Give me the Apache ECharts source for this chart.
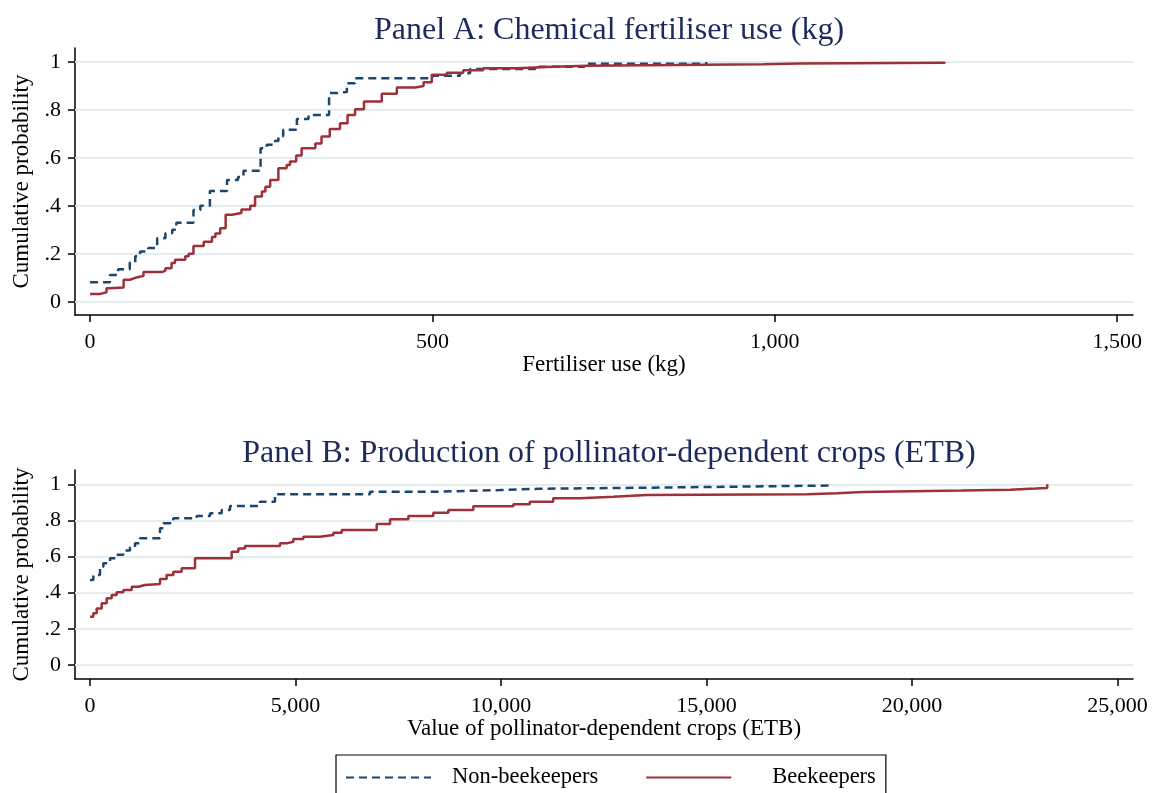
<!DOCTYPE html>
<html><head><meta charset="utf-8">
<script src="https://cdn.jsdelivr.net/npm/echarts@6/dist/echarts.min.js"></script>
<style>html,body{margin:0;padding:0;background:#fff}#c{width:1153px;height:793px}</style>
</head><body><div id="c"></div>
<script>
const seriesNames = ['Non-beekeepers', 'Beekeepers'];
const panelTitles = ['Panel A: Chemical fertiliser use (kg)', 'Panel B: Production of pollinator-dependent crops (ETB)'];
const xTitles = ['Fertiliser use (kg)', 'Value of pollinator-dependent crops (ETB)'];
const yTitle = 'Cumulative probability';
const fertTicks = [0, 500, 1000, 1500];
const prodTicks = [0, 5000, 10000, 15000, 20000, 25000];
const probTicks = [0, 0.2, 0.4, 0.6, 0.8, 1];

// Panel A: [kg, cumulative probability]
const fertNon = [[0,.082],[29,.112],[41,.136],[58,.164],[66,.19],[73,.21],[85,.224],[98,.265],[110,.286],[120,.30],[126,.33],[151,.383],[161,.40],[175,.462],[200,.508],[216,.52],[224,.546],[249,.64],[258,.655],[268,.67],[275,.69],[282,.717],[302,.762],[319,.779],[349,.87],[360,.875],[375,.911],[387,.932],[500,.942],[540,.953],[555,.97],[650,.98],[722,.992],[900,1]];
const fertBee = [[0,.033],[15,.04],[24,.057],[29,.06],[49,.092],[58,.10],[66,.108],[78,.124],[105,.13],[110,.14],[119,.162],[124,.175],[139,.19],[144,.2],[151,.233],[166,.25],[178,.27],[183,.285],[190,.307],[198,.3625],[207,.37],[221,.385],[234,.40],[241,.439],[251,.46],[256,.48],[263,.508],[275,.557],[287,.57],[292,.585],[301,.61],[309,.64],[329,.66],[338,.689],[350,.72],[365,.744],[376,.779],[387,.803],[400,.835],[426,.867],[448,.893],[475,.90],[487,.915],[499,.946],[521,.955],[545,.965],[574,.974],[623,.98],[677,.984],[725,.99],[983,.993],[1036,.996],[1248,1]];

// Panel B: [ETB, cumulative probability]
const prodNon = [[0,.47],[81,.498],[243,.544],[324,.563],[487,.59],[649,.61],[811,.633],[973,.65],[1095,.673],[1216,.701],[1703,.756],[1784,.784],[2027,.812],[2595,.825],[2920,.839],[3203,.858],[3406,.88],[4136,.904],[4501,.945],[6813,.959],[8435,.968],[9976,.975],[10900,.983],[14355,.993],[18000,1]];
const prodBee = [[0,.267],[81,.286],[162,.313],[284,.341],[406,.369],[527,.387],[649,.402],[811,.415],[1014,.433],[1176,.443],[1338,.448],[1703,.476],[1865,.498],[2027,.516],[2230,.535],[2555,.59],[3447,.627],[3609,.645],[3771,.658],[4623,.673],[4785,.682],[4947,.697],[5191,.71],[5596,.719],[5921,.732],[6124,.747],[6976,.78],[7300,.806],[7746,.825],[8354,.843],[8719,.858],[9327,.878],[10300,.89],[10700,.904],[11270,.922],[11920,.931],[12730,.941],[13550,.945],[17445,.95],[18175,.957],[18800,.965],[21215,.97],[22385,.976],[23000,.98],[23290,1]];

const FONT = 'Liberation Serif';
const BLUE = '#1a476f', RED = '#9e3039', NAVY = '#1c2b5c', GRID = '#e3edf0';

function probLabel(v) {
  if (v === 0) return '0';
  if (v === 1) return '1';
  return String(+v.toFixed(1)).replace(/^0\./, '.');
}
function numLabel(v) { return Number(v).toLocaleString('en-US'); }

function xAxis(idx, min, max, ticks, name) {
  return {
    type: 'value', gridIndex: idx, min: min, max: max,
    name: name, nameLocation: 'middle', nameGap: 38,
    nameTextStyle: { fontFamily: FONT, fontSize: 23, color: '#000' },
    axisLine: { show: true, onZero: false, lineStyle: { color: '#000', width: 1.5 } },
    axisTick: { show: true, length: 7, customValues: ticks, lineStyle: { color: '#000', width: 1.5 } },
    axisLabel: { customValues: ticks, formatter: numLabel, fontFamily: FONT, fontSize: 22, color: '#000', margin: 16 },
    splitLine: { show: false }
  };
}
function yAxis(idx, min, max) {
  return {
    type: 'value', gridIndex: idx, min: min, max: max,
    name: yTitle, nameLocation: 'middle', nameGap: 42, nameRotate: 90,
    nameTextStyle: { fontFamily: FONT, fontSize: 23, color: '#000' },
    axisLine: { show: true, onZero: false, lineStyle: { color: '#000', width: 1.5 } },
    axisTick: { show: true, length: 7, customValues: probTicks, lineStyle: { color: '#000', width: 1.5 } },
    axisLabel: { customValues: probTicks, formatter: probLabel, fontFamily: FONT, fontSize: 22, color: '#000', margin: 14 },
    splitLine: { show: false }
  };
}
function gridMarks() {
  return {
    silent: true, symbol: 'none', z: 1,
    label: { show: false },
    lineStyle: { color: GRID, width: 2, type: 'solid' },
    emphasis: { disabled: true },
    data: probTicks.map(v => ({ yAxis: v }))
  };
}
function lineSeries(name, data, idx, color, dashed, withGrid) {
  const s = {
    name: name, type: 'line', step: 'end', xAxisIndex: idx, yAxisIndex: idx,
    data: data, showSymbol: false, symbol: 'none', z: 3, animation: false,
    lineStyle: { color: color, width: 2.5, type: dashed ? [8, 5] : 'solid' },
    itemStyle: { color: color }
  };
  if (withGrid) s.markLine = gridMarks();
  return s;
}

const chart = echarts.init(document.getElementById('c'), null, { renderer: 'canvas' });
chart.setOption({
  backgroundColor: '#fff',
  animation: false,
  title: [
    { text: panelTitles[0], left: 604, top: 10, textAlign: 'center', textStyle: { fontFamily: FONT, fontSize: 32, fontWeight: 'normal', color: NAVY } },
    { text: panelTitles[1], left: 604, top: 433, textAlign: 'center', textStyle: { fontFamily: FONT, fontSize: 32, fontWeight: 'normal', color: NAVY } }
  ],
  legend: {
    data: [
      { name: seriesNames[0], textStyle: { padding: [0, 0, 0, 16] } },
      { name: seriesNames[1], textStyle: { padding: [0, 0, 0, 36] } }
    ],
    left: 336, top: 755, orient: 'horizontal',
    icon: 'inherit',
    itemStyle: { opacity: 0 },
    borderColor: '#000', borderWidth: 1.2, padding: [11, 10, 30, 9],
    itemWidth: 85, itemHeight: 20, itemGap: 47,
    textStyle: { fontFamily: FONT, fontSize: 22.5, color: '#000' }
  },
  grid: [
    { left: 75, right: 20, top: 48, height: 267 },
    { left: 75, right: 20, top: 470, height: 209 }
  ],
  xAxis: [
    xAxis(0, -22, 1523, fertTicks, xTitles[0]),
    xAxis(1, -365, 25377, prodTicks, xTitles[1])
  ],
  yAxis: [
    yAxis(0, -0.055, 1.058),
    yAxis(1, -0.0775, 1.079)
  ],
  series: [
    lineSeries(seriesNames[0], fertNon, 0, BLUE, true, true),
    lineSeries(seriesNames[1], fertBee, 0, RED, false, false),
    lineSeries(seriesNames[0], prodNon, 1, BLUE, true, true),
    lineSeries(seriesNames[1], prodBee, 1, RED, false, false)
  ]
});
</script>
</body></html>
